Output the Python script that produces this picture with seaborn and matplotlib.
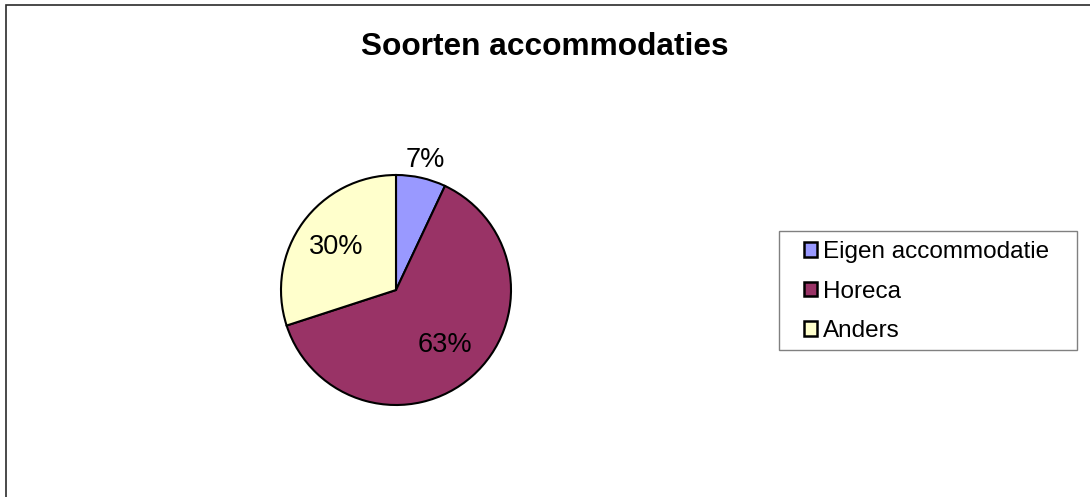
import numpy as np
import matplotlib
matplotlib.use("Agg")
import matplotlib.pyplot as plt
from matplotlib.patches import Rectangle
import seaborn as sns

# data
categories = ["Eigen accommodatie", "Horeca", "Anders"]
shares = [7, 63, 30]
colors = ["#9999FF", "#993366", "#FFFFCC"]
title = "Soorten accommodaties"

sns.set_theme(style="white")
plt.rcParams['font.family'] = ['Liberation Sans', 'DejaVu Sans']
plt.rcParams['text.color'] = 'black'

W, H = 1090, 497
fig = plt.figure(figsize=(W / 100, H / 100), dpi=100)
fig.patch.set_facecolor("white")

# chart border (top and left visible, rest runs off the image)
fig.add_artist(Rectangle((6 / W, -0.2), 1.5, (H - 5) / H + 0.2,
                         transform=fig.transFigure, fill=False,
                         edgecolor="#2b2b2b", linewidth=1.2))

fig.text(545 / W, 1 - 47 / H, title, ha="center", va="center",
         fontsize=22.8, fontweight="bold", color="black")

# pie axes
cx, cy, r = 396, 290, 115
ax = fig.add_axes([(cx - r) / W, (H - cy - r) / H, 2 * r / W, 2 * r / H])
wedges, texts, autotexts = ax.pie(
    shares, colors=colors, startangle=90, counterclock=False,
    autopct=lambda p: f"{p:.0f}%", pctdistance=0.64,
    wedgeprops=dict(edgecolor="black", linewidth=1.5),
    textprops=dict(fontsize=19.5, color="black"))
for w in wedges:
    w.set_clip_on(False)

# small slice label sits outside the pie
w0 = wedges[0]
mid = np.deg2rad((w0.theta1 + w0.theta2) / 2)
autotexts[0].set_position((1.16 * np.cos(mid), 1.16 * np.sin(mid)))
autotexts[0].set_clip_on(False)

ax.set_xlim(-1, 1)
ax.set_ylim(-1, 1)
ax.set_aspect("equal")
ax.axis("off")

# legend frame drawn separately (wider side padding than matplotlib allows)
fig.add_artist(Rectangle((779 / W, 1 - 350 / H), (1077 - 779) / W, (350 - 231) / H,
                         transform=fig.transFigure, facecolor="white",
                         edgecolor="#808080", linewidth=1.0))

leg = fig.legend(wedges, categories, loc="center left",
                 bbox_to_anchor=(804 / W, 1 - 291.5 / H),
                 fontsize=17.5, frameon=False,
                 handlelength=0.55, handleheight=0.55, handletextpad=0.25,
                 labelspacing=0.72, borderpad=0, borderaxespad=0)
for h in leg.legend_handles:
    h.set_linewidth(1.8)
    h.set_edgecolor("black")
for t in leg.get_texts():
    t.set_color("black")

fig.savefig("out.png", dpi=100, facecolor="white")
